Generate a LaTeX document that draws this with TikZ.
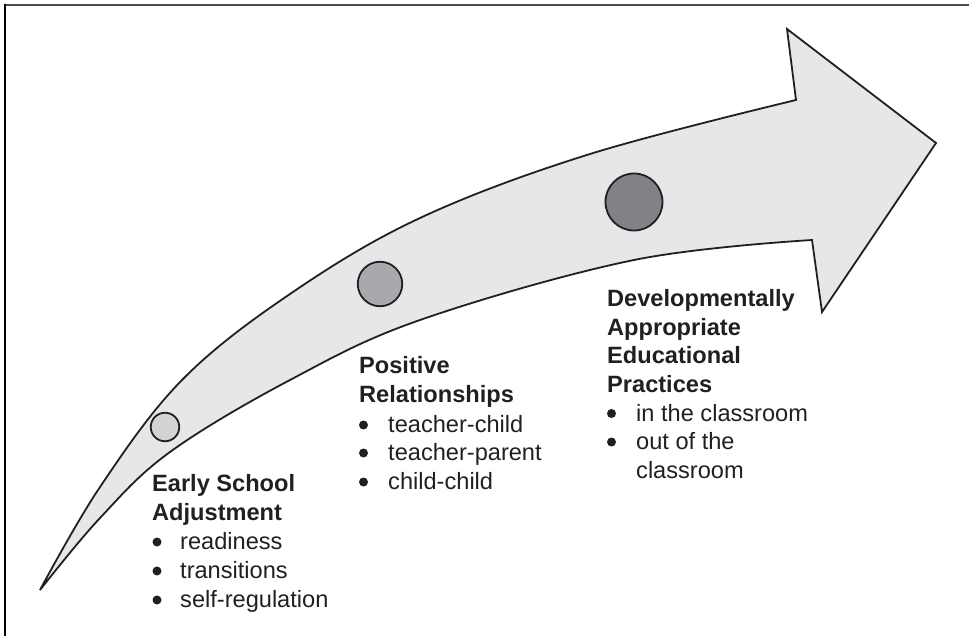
\documentclass[tikz,border=0pt]{standalone}
\usepackage{fontspec}
\setmainfont{Liberation Sans}
\definecolor{arrowfill}{HTML}{E6E7E8}
\definecolor{ink}{HTML}{231F20}
\definecolor{dotA}{HTML}{D1D3D4}
\definecolor{dotB}{HTML}{A7A9AC}
\definecolor{dotC}{HTML}{808285}
\definecolor{topframe}{HTML}{4D4D4F}
\begin{document}
\begin{tikzpicture}[x=1pt,y=-1pt,
  arrowbody/.style={fill=arrowfill,draw=ink,line width=1.8pt},
  dot/.style={circle,draw=ink,line width=1.8pt,inner sep=0pt},
  bul/.style={circle,fill=ink,inner sep=0pt,minimum size=9pt},
  hd/.style={anchor=base west,inner sep=0pt,font=\fontsize{23.6}{28}\selectfont\bfseries,text=ink},
  itm/.style={anchor=base west,inner sep=0pt,font=\fontsize{23.6}{28}\selectfont,text=ink}]
\useasboundingbox (0,0) rectangle (969,636);
% frame
\draw[topframe,line width=2pt] (4,5) -- (969,5);
\draw[black,line width=1.6pt] (5,4) -- (5,636);
% arrow
\filldraw[arrowbody] plot[smooth,tension=.6] coordinates {(40,590) (100,487) (182,380) (290,294) (420,218) (590,154) (796,100)}
 -- (787,29) -- (936,143) -- (822,312) -- (812,240)
 -- plot[smooth,tension=.6] coordinates {(812,240) (634,260) (420,320) (290,380) (170,452) (100,518) (40,590)} -- cycle;
% dots
\node[dot,fill=dotA,minimum size=28.5pt] (d1) at (165,427) {};
\node[dot,fill=dotB,minimum size=44.5pt] (d2) at (380,284) {};
\node[dot,fill=dotC,minimum size=57pt] (d3) at (634,202) {};
% block 1
\node[hd] (a1) at (152,491) {Early School};
\node[hd] (a2) at (152,520) {Adjustment};
\node[bul] (a3b) at (157,542) {};
\node[itm] (a3) at (180,549) {readiness};
\node[bul] (a4b) at (157,571) {};
\node[itm] (a4) at (180,578) {transitions};
\node[bul] (a5b) at (157,600) {};
\node[itm] (a5) at (180,607) {self-regulation};
% block 2
\node[hd] (b1) at (359,373) {Positive};
\node[hd] (b2) at (359,402) {Relationships};
\node[bul] (b3b) at (363.5,425) {};
\node[itm] (b3) at (388,432) {teacher-child};
\node[bul] (b4b) at (363.5,453) {};
\node[itm] (b4) at (388,460) {teacher-parent};
\node[bul] (b5b) at (363.5,482) {};
\node[itm] (b5) at (388,489) {child-child};
% block 3
\node[hd] (c1) at (607,306) {Developmentally};
\node[hd] (c2) at (607,335) {Appropriate};
\node[hd] (c3) at (607,363) {Educational};
\node[hd] (c4) at (607,392) {Practices};
\node[bul] (c5b) at (611.5,413.5) {};
\node[itm] (c5) at (636,421) {in the classroom};
\node[bul] (c6b) at (611.5,442) {};
\node[itm] (c6) at (636,449) {out of the};
\node[itm] (c7) at (636,478) {classroom};
\end{tikzpicture}
\end{document}
